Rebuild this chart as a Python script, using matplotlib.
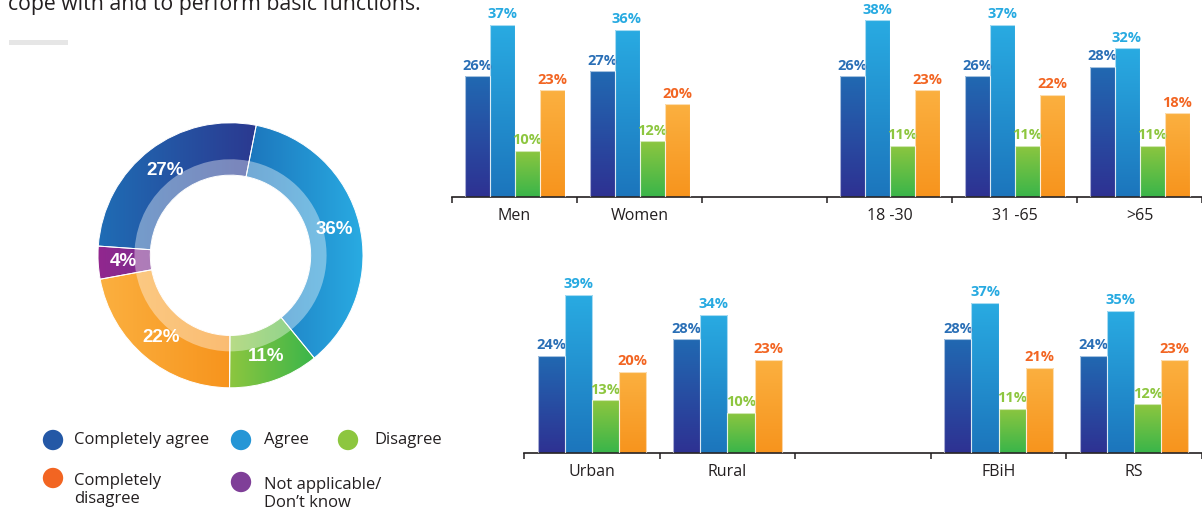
import matplotlib.pyplot as plt
import numpy as np
from matplotlib.colors import LinearSegmentedColormap
from matplotlib.patches import Rectangle

plt.rcParams["font.family"] = ["Open Sans", "DejaVu Sans"]

# ---- data ----
series = ["Completely agree", "Agree", "Disagree", "Completely disagree",
          "Not applicable/\nDon’t know"]
donut_vals = [27, 36, 11, 22, 4]

top_cats = ["Men", "Women", "", "18 -30", "31 -65", ">65"]
top_ca = [26, 27, None, 26, 26, 28]
top_ag = [37, 36, None, 38, 37, 32]
top_dis = [10, 12, None, 11, 11, 11]
top_cd = [23, 20, None, 23, 22, 18]

bot_cats = ["Urban", "Rural", "", "FBiH", "RS"]
bot_ca = [24, 28, None, 28, 24]
bot_ag = [39, 34, None, 37, 35]
bot_dis = [13, 10, None, 11, 12]
bot_cd = [20, 23, None, 21, 23]

# gradients: (bottom/left, top/right)
bar_grad = [("#2e3192", "#2169b2"), ("#1c75bc", "#29abe2"),
            ("#39b54a", "#8dc63f"), ("#f7941d", "#fbb040")]
donut_grad = [("#1f6db5", "#2b3990"), ("#1c75bc", "#29abe2"),
              ("#8dc63f", "#39b54a"), ("#fbb040", "#f7941d"),
              ("#92278f", "#7b2e8e")]
label_colors = ["#2a6fb6", "#27aae1", "#8dc63f", "#f26522"]
legend_colors = ["#2458a6", "#2596d6", "#8dc63f", "#f26522", "#7f3f98"]
text_color = "#231f20"


def fill_gradient(ax, patch, c0, c1, vertical=True, zorder=2):
    bb = patch.get_path().get_extents(patch.get_patch_transform())
    cmap = LinearSegmentedColormap.from_list("g", [c0, c1])
    g = np.linspace(0, 1, 256)
    grad = g.reshape(-1, 1) if vertical else g.reshape(1, -1)
    im = ax.imshow(grad, extent=[bb.x0, bb.x1, bb.y0, bb.y1], origin="lower",
                   aspect="auto", cmap=cmap, zorder=zorder,
                   interpolation="bicubic")
    im.set_clip_path(patch)


def grouped_bars(ax, cats, groups, ymax):
    width = 0.2
    offsets = [-0.3, -0.1, 0.1, 0.3]
    for k, vals in enumerate(groups):
        idx = [i for i, v in enumerate(vals) if v is not None]
        xs = np.array(idx) + offsets[k]
        hs = [vals[i] for i in idx]
        bars = ax.bar(xs, hs, width, facecolor="none",
                      edgecolor=(1, 1, 1, 0.6), linewidth=0.8, zorder=3)
        for b in bars:
            fill_gradient(ax, b, bar_grad[k][0], bar_grad[k][1])
        for x, h in zip(xs, hs):
            ax.annotate(f"{h}%", (x, h), xytext=(0, 2.5),
                        textcoords="offset points", ha="center", va="bottom",
                        fontsize=10.5, fontweight="bold",
                        color=label_colors[k], annotation_clip=False)
    n = len(cats)
    ax.set_xlim(-0.5, n - 0.5)
    ax.set_ylim(0, ymax)
    ax.set_xticks(range(n))
    ax.set_xticklabels(cats, fontsize=11.5, color=text_color)
    ax.set_xticks(np.arange(-0.5, n, 1.0), minor=True)
    ax.tick_params(axis="x", which="major", length=0, pad=8)
    ax.tick_params(axis="x", which="minor", length=4, width=1.1,
                   color=text_color)
    ax.set_yticks([])
    for s in ["top", "right", "left"]:
        ax.spines[s].set_visible(False)
    ax.spines["bottom"].set_color(text_color)
    ax.spines["bottom"].set_linewidth(1.2)
    ax.patch.set_alpha(0)


fig = plt.figure(figsize=(12.02, 5.14), dpi=100)

# background layer in pixel coordinates
bg = fig.add_axes([0, 0, 1, 1])
bg.set_xlim(0, 1202)
bg.set_ylim(514, 0)
bg.axis("off")
bg.text(8, 10, "cope with and to perform basic functions.", fontsize=15.3,
        color=text_color, va="baseline", ha="left")
bg.add_patch(Rectangle((9, 40), 59, 5, color="#e6e6e6", lw=0))

leg_pos = [(53, 440, 74, 440), (241, 440, 264, 440), (348, 440, 374, 440),
           (53, 478, 74, 490), (241, 482, 264, 494)]
for (mx, my, tx, ty), lab, c in zip(leg_pos, series, legend_colors):
    bg.scatter([mx], [my], s=215, color=c, edgecolor="none")
    bg.text(tx, ty, lab.replace("Completely disagree", "Completely\ndisagree"),
            fontsize=12, color=text_color, va="center", ha="left",
            linespacing=1.15)

# donut
cx, cy, r_px = 230.5, 255.3, 132.5
half = 145
axd = fig.add_axes([(cx - half) / 1202, (514 - cy - half) / 514,
                    2 * half / 1202, 2 * half / 514])
lim = half / r_px
wedges, _, autotexts = axd.pie(
    donut_vals, startangle=176, counterclock=False, radius=1,
    autopct=lambda p: f"{p:.0f}%", pctdistance=0.81,
    wedgeprops=dict(width=0.395, facecolor="none", edgecolor="white",
                    linewidth=0.7, zorder=3),
    textprops=dict(color="white", fontsize=13.5, fontweight="bold",
                   family=["Liberation Sans", "DejaVu Sans"], zorder=5))
for w, (c0, c1) in zip(wedges, donut_grad):
    fill_gradient(axd, w, c0, c1, vertical=False)
axd.pie(donut_vals, startangle=176, counterclock=False, radius=0.725,
        colors=[(1, 1, 1, 0.38)] * len(donut_vals),
        wedgeprops=dict(width=0.12, edgecolor="none", zorder=4))
axd.set_xlim(-lim, lim)
axd.set_ylim(-lim, lim)
axd.set_aspect("equal")
axd.axis("off")

# top bars
axt = fig.add_axes([452 / 1202, (514 - 197) / 514, 750 / 1202, 197 / 514])
grouped_bars(axt, top_cats, [top_ca, top_ag, top_dis, top_cd], 197 / 4.65)

# bottom bars
axb = fig.add_axes([524 / 1202, (514 - 453.3) / 514, 678 / 1202,
                    183.3 / 514])
grouped_bars(axb, bot_cats, [bot_ca, bot_ag, bot_dis, bot_cd], 183.3 / 4.07)

fig.savefig("out.png", dpi=100)
